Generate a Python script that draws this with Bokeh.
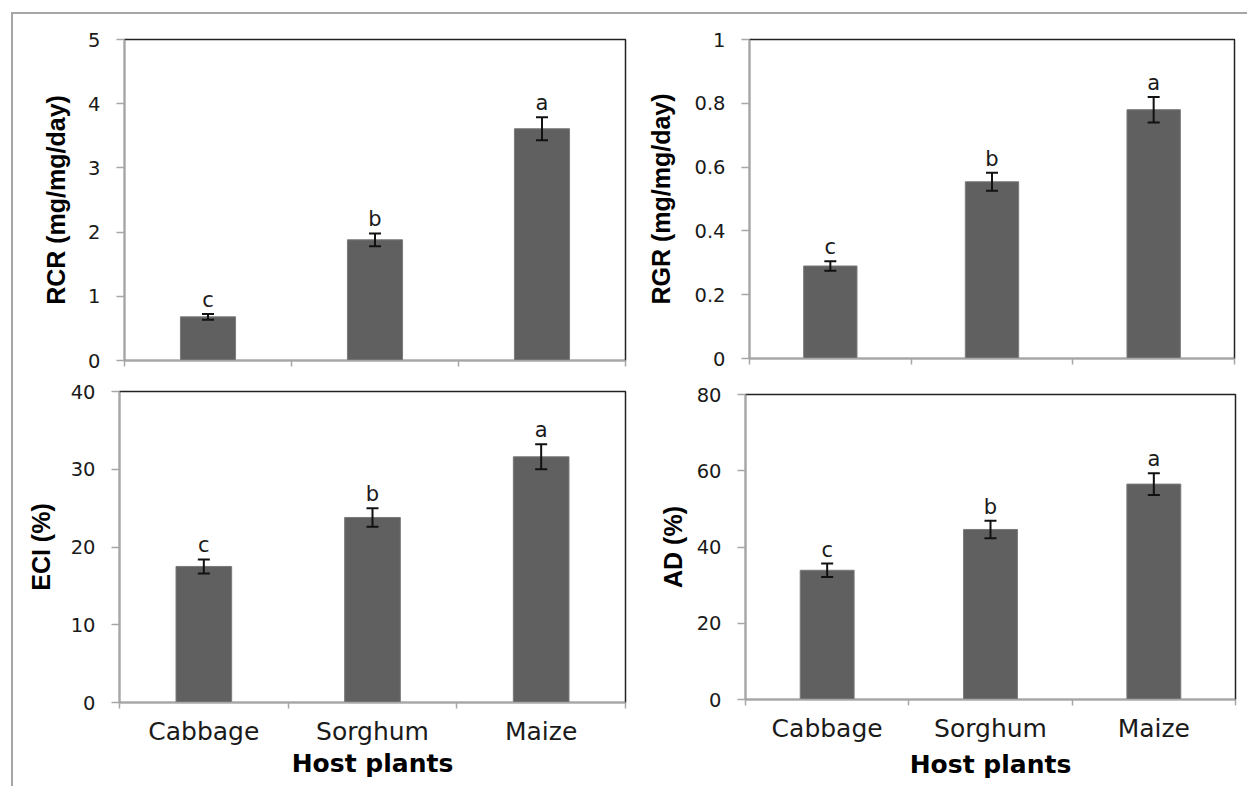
from bokeh.plotting import figure
from bokeh.models import Range1d, FixedTicker, Whisker, TeeHead, ColumnDataSource
from bokeh.layouts import column, row
from bokeh.core.properties import value
from bokeh.embed import file_html
from bokeh.resources import INLINE

# ---- data ----
categories = ["Cabbage", "Sorghum", "Maize"]
letters = ["c", "b", "a"]

rcr = [0.68, 1.88, 3.61]
rcr_err = [0.045, 0.10, 0.18]
rcr_ticks = [0, 1, 2, 3, 4, 5]
rcr_tick_labels = ["0", "1", "2", "3", "4", "5"]

rgr = [0.29, 0.554, 0.78]
rgr_err = [0.015, 0.028, 0.04]
rgr_ticks = [0, 0.2, 0.4, 0.6, 0.8, 1]
rgr_tick_labels = ["0", "0.2", "0.4", "0.6", "0.8", "1"]

eci = [17.5, 23.8, 31.6]
eci_err = [0.9, 1.2, 1.6]
eci_ticks = [0, 10, 20, 30, 40]
eci_tick_labels = ["0", "10", "20", "30", "40"]

ad = [33.9, 44.6, 56.5]
ad_err = [1.75, 2.3, 2.85]
ad_ticks = [0, 20, 40, 60, 80]
ad_tick_labels = ["0", "20", "40", "60", "80"]

BAR = "#606060"
AXIS = "#a6a6a6"
TXT = "#1a1a1a"


def make_panel(vals, errs, ticks, tick_labels, ytitle, width, height, borders,
               ylab_standoff, show_x, xlab_standoff=4):
    left, right, top, bottom = borders
    n = len(categories)
    xs = [i + 0.5 for i in range(n)]
    p = figure(width=width, height=height, x_range=Range1d(0, n),
               y_range=Range1d(ticks[0], ticks[-1]),
               output_backend="svg", toolbar_location=None,
               min_border_left=left, min_border_right=right,
               min_border_top=top, min_border_bottom=bottom)
    p.xgrid.visible = False
    p.ygrid.visible = False
    p.background_fill_color = "white"
    p.border_fill_color = "white"
    p.outline_line_color = "#222222"
    p.outline_line_width = 1.5

    src = ColumnDataSource(dict(
        x=xs, top=vals,
        upper=[v + e for v, e in zip(vals, errs)],
        lower=[v - e for v, e in zip(vals, errs)],
        letter=letters,
    ))
    p.vbar(x="x", top="top", width=0.33, bottom=0, source=src,
           fill_color=BAR, line_color="#7a7a7a", line_width=1)
    w = Whisker(base="x", upper="upper", lower="lower", source=src,
                line_color="#111111", line_width=2, level="overlay",
                upper_head=TeeHead(size=12, line_color="#111111", line_width=2),
                lower_head=TeeHead(size=12, line_color="#111111", line_width=2))
    p.add_layout(w)
    p.text(x="x", y="upper", text="letter", source=src,
           text_align="center", text_baseline="middle", y_offset=-14,
           text_font=value("DejaVu Sans"), text_font_size="21px",
           text_color=TXT)

    ya = p.yaxis[0]
    ya.ticker = FixedTicker(ticks=ticks, minor_ticks=[])
    ya.major_label_overrides = {t: l for t, l in zip(ticks, tick_labels)}
    ya.axis_line_color = AXIS
    ya.axis_line_width = 1.5
    ya.major_tick_line_color = AXIS
    ya.major_tick_line_width = 1.5
    ya.major_tick_out = 8
    ya.major_tick_in = 0
    ya.minor_tick_out = 0
    ya.minor_tick_in = 0
    ya.major_label_standoff = 16
    ya.major_label_text_font = "DejaVu Sans"
    ya.major_label_text_font_size = "19.5px"
    ya.major_label_text_color = TXT
    ya.axis_label = ytitle
    ya.axis_label_text_font = "Liberation Sans"
    ya.axis_label_text_font_style = "bold"
    ya.axis_label_text_font_size = "25px"
    ya.axis_label_text_color = "#000000"
    ya.axis_label_standoff = ylab_standoff

    xa = p.xaxis[0]
    xa.ticker = FixedTicker(ticks=xs, minor_ticks=list(range(n + 1)))
    xa.axis_line_color = AXIS
    xa.axis_line_width = 1.5
    xa.major_tick_out = 0
    xa.major_tick_in = 0
    xa.minor_tick_line_color = AXIS
    xa.minor_tick_line_width = 1.5
    xa.minor_tick_out = 6
    xa.minor_tick_in = 0
    if show_x:
        xa.major_label_overrides = {x: c for x, c in zip(xs, categories)}
        xa.major_label_standoff = 8
        xa.major_label_text_font = "DejaVu Sans"
        xa.major_label_text_font_size = "25px"
        xa.major_label_text_color = TXT
        xa.axis_label = "Host plants"
        xa.axis_label_text_font = "DejaVu Sans"
        xa.axis_label_text_font_style = "bold"
        xa.axis_label_text_font_size = "25px"
        xa.axis_label_text_color = "#000000"
        xa.axis_label_standoff = xlab_standoff
    else:
        xa.major_label_overrides = {x: "" for x in xs}
        xa.major_label_text_font_size = "1px"
        xa.major_label_standoff = 0
    return p


p1 = make_panel(rcr, rcr_err, rcr_ticks, rcr_tick_labels, "RCR (mg/mg/day)",
                622, 361, (111, 10, 25, 15), 15, False)
p2 = make_panel(rgr, rgr_err, rgr_ticks, rgr_tick_labels, "RGR (mg/mg/day)",
                612, 361, (114, 13, 25, 17), 16, False)
p3 = make_panel(eci, eci_err, eci_ticks, eci_tick_labels, "ECI (%)",
                622, 411, (106, 10, 16, 84), 13, True, 0)
p4 = make_panel(ad, ad_err, ad_ticks, ad_tick_labels, "AD (%)",
                612, 411, (110, 12, 19, 87), 7, True, 4)

root = column(row(column(p1), column(p2)), row(column(p3), column(p4)),
              margin=(12, 0, 0, 11),
              styles={"border-top": "2px solid #a6a6a6",
                      "border-left": "2px solid #a6a6a6"})

open("out.html", "w").write(file_html(root, INLINE))
